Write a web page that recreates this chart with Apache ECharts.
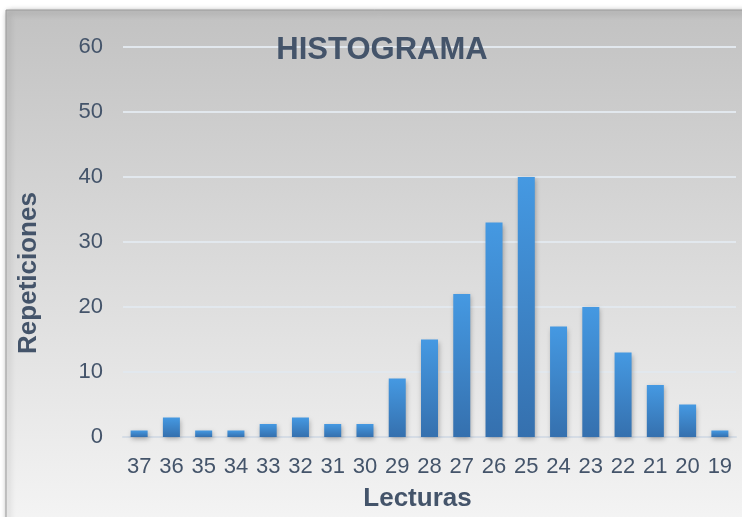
<!DOCTYPE html>
<html><head><meta charset="utf-8">
<script src="https://cdn.jsdelivr.net/npm/echarts@6/dist/echarts.min.js"></script>
<style>html,body{margin:0;padding:0;background:#fff}#c{width:742px;height:517px}</style>
</head><body><div id="c"></div>
<script>
const categories = ['37','36','35','34','33','32','31','30','29','28','27','26','25','24','23','22','21','20','19'];
const values = [1,3,1,1,2,3,2,2,9,15,22,33,40,17,20,13,8,5,1];
const yTicks = [0,10,20,30,40,50,60];
const chart = echarts.init(document.getElementById('c'));
const font = '"Liberation Sans", Arial, sans-serif';
const txt = '#44546a';
chart.setOption({
  animation:false,
  graphic:[{type:'rect',z:-10,shape:{x:6,y:10,width:745,height:515},
    style:{fill:new echarts.graphic.LinearGradient(0,0,0,1,[{offset:0,color:'#c2c2c2'},{offset:1,color:'#f4f4f4'}]),
      stroke:'#9a9a9a',lineWidth:1,shadowBlur:6,shadowColor:'rgba(0,0,0,0.45)',shadowOffsetX:2,shadowOffsetY:2}}],
  title:{text:'HISTOGRAMA',left:377,top:30,textAlign:'center',textStyle:{fontFamily:font,fontSize:31,fontWeight:'bold',color:txt}},
  grid:{left:123,right:6,top:47,bottom:80},
  xAxis:{type:'category',data:categories,name:'Lecturas',nameLocation:'middle',nameGap:49,
    nameTextStyle:{fontFamily:font,fontSize:26,fontWeight:'bold',color:txt,padding:[0,24,0,0]},
    axisLine:{lineStyle:{color:'#d5dce5',width:2}},axisTick:{show:false},
    axisLabel:{fontFamily:font,fontSize:22,color:txt,margin:19,interval:0}},
  yAxis:{type:'value',min:0,max:60,interval:10,name:'Repeticiones',nameLocation:'middle',nameGap:81,
    nameTextStyle:{fontFamily:font,fontSize:26,fontWeight:'bold',color:txt,padding:[0,62,0,0]},
    axisLine:{show:false},axisTick:{show:false},
    axisLabel:{fontFamily:font,fontSize:22,color:txt,margin:20,formatter:v=>yTicks.includes(v)?String(v):''},
    splitLine:{lineStyle:{color:'#e2e8ee',width:2}}},
  series:[{type:'bar',data:values,barWidth:17,
    itemStyle:{color:new echarts.graphic.LinearGradient(0,0,0,1,[{offset:0,color:'#4599e2'},{offset:1,color:'#3570ae'}]),
      shadowBlur:5,shadowColor:'rgba(0,0,0,0.3)',shadowOffsetX:1,shadowOffsetY:2}}]
});
</script></body></html>
